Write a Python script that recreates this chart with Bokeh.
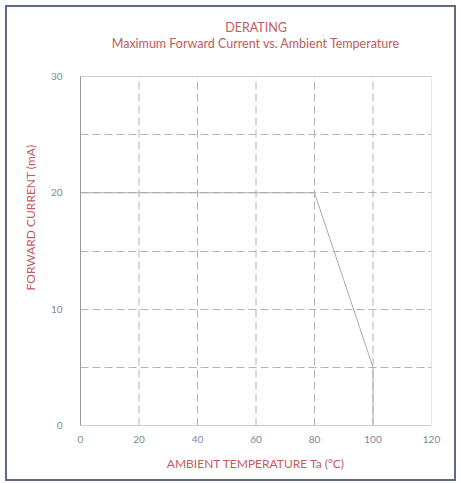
from bokeh.plotting import figure
from bokeh.models import FixedTicker, Label, Range1d
from bokeh.embed import file_html
from bokeh.resources import INLINE

# data
temp_c = [0, 80, 100, 100]
current_ma = [20, 20, 5, 0]
x_ticks = [0, 20, 40, 60, 80, 100, 120]
y_ticks = [0, 10, 20, 30]
x_grid = [20, 40, 60, 80, 100]
y_grid = [5, 10, 15, 20, 25]
title_main = "DERATING"
title_sub = "Maximum Forward Current vs. Ambient Temperature"

RED = "#c45a5c"
TICK = "#7d889a"
FONT = "Lato"
GRID = "#b4b4b4"

PLOT_H = 349      # pixel height of the 0..30 area
TOP_PAD = 67      # extra frame space above 30 used for the titles
px_per_unit = PLOT_H / y_ticks[-1]
y_top = y_ticks[-1] * (PLOT_H + TOP_PAD) / PLOT_H

p = figure(width=447, height=472, output_backend="svg", toolbar_location=None,
           x_range=Range1d(x_ticks[0], x_ticks[-1]), y_range=Range1d(y_ticks[0], y_top),
           frame_width=351, frame_height=PLOT_H + TOP_PAD,
           min_border_left=73, min_border_top=2, min_border_right=23, min_border_bottom=54)
p.styles = {"border": "2px solid #5b6b87",
            "margin-left": "5px", "margin-top": "5px"}
p.outline_line_color = None

# grid
p.xgrid.visible = False
p.ygrid.ticker = FixedTicker(ticks=y_grid)
p.ygrid.grid_line_color = GRID
p.ygrid.grid_line_dash = "8 4"
p.segment(x0=x_grid, y0=[y_ticks[0]] * len(x_grid), x1=x_grid, y1=[y_ticks[-1]] * len(x_grid),
          line_color=GRID, line_dash="8 4", line_width=1)

# plot box top and right edges
p.segment(x0=[x_ticks[0], x_ticks[-1]], y0=[y_ticks[-1], y_ticks[0]],
          x1=[x_ticks[-1], x_ticks[-1]], y1=[y_ticks[-1], y_ticks[-1]],
          line_color="#cccccc", line_width=1)

p.line(temp_c, current_ma, line_color="#ababab", line_width=1)

p.xaxis.ticker = FixedTicker(ticks=x_ticks)
p.yaxis.ticker = FixedTicker(ticks=y_ticks)
p.yaxis.bounds = (y_ticks[0], y_ticks[-1])

for ax in (p.xaxis, p.yaxis):
    ax.major_tick_line_color = None
    ax.minor_tick_line_color = None
    ax.major_label_text_color = TICK
    ax.major_label_text_font = FONT
    ax.major_label_text_font_size = "10px"
    ax.axis_label_text_color = RED
    ax.axis_label_text_font = FONT
    ax.axis_label_text_font_size = "12px"
    ax.axis_label_text_font_style = "normal"

p.xaxis.axis_line_color = "#cccccc"
p.yaxis.axis_line_color = "#999999"
p.xaxis.major_label_standoff = 4
p.yaxis.major_label_standoff = 12
p.xaxis.axis_label = "AMBIENT TEMPERATURE Ta (°C)"
p.yaxis.axis_label = "FORWARD CURRENT (mA)"
p.xaxis.axis_label_standoff = 10
p.yaxis.axis_label_standoff = 10

x_mid = (x_ticks[0] + x_ticks[-1]) / 2
p.add_layout(Label(x=x_mid, y=y_ticks[-1] + 49 / px_per_unit, text=title_main,
                   text_align="center", text_baseline="middle",
                   text_color=RED, text_font=FONT, text_font_size="12.5px"))
p.add_layout(Label(x=x_mid, y=y_ticks[-1] + 33 / px_per_unit, text=title_sub,
                   text_align="center", text_baseline="middle",
                   text_color=RED, text_font=FONT, text_font_size="12.5px"))

open("out.html", "w").write(file_html(p, INLINE))
